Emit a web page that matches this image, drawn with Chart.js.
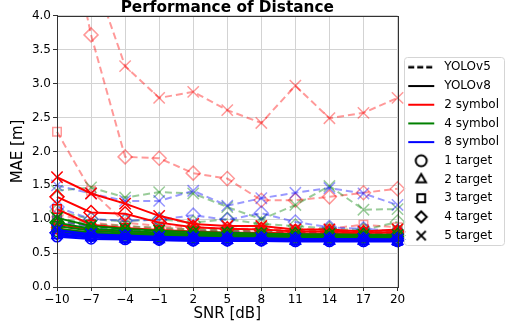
<!DOCTYPE html>
<html lang="en">
<head>
<meta charset="UTF-8" />
<title>Performance of Distance</title>
<script src="https://cdn.jsdelivr.net/npm/chart.js"></script>
<style>
  html, body { margin: 0; padding: 0; background: #fff; }
  #chart-container { width: 512px; height: 326px; }
</style>
</head>
<body>
<div id="chart-container"><canvas id="my-chart"></canvas></div>
<script>
// x categories
const snrLabels = ["\u221210", "\u22127", "\u22124", "\u22121", "2", "5", "8", "11", "14", "17", "20"];
const targetNames = ["1 target", "2 target", "3 target", "4 target", "5 target"];
const symbolNames = ["2 symbol", "4 symbol", "8 symbol"];
const modelNames = ["YOLOv5", "YOLOv8"];

// YOLOv5 (dashed), one row per target count 1..5
const yolov5Sym2 = [
  [0.98, 0.90, 0.86, 0.84, 0.83, 0.82, 0.82, 0.81, 0.81, 0.80, 0.80],
  [1.08, 0.95, 0.90, 0.87, 0.85, 0.84, 0.84, 0.83, 0.83, 0.82, 0.82],
  [2.29, 1.42, 0.95, 0.90, 0.88, 0.86, 0.86, 0.85, 0.86, 0.92, 0.88],
  [6.10, 3.72, 1.92, 1.90, 1.68, 1.60, 1.28, 1.28, 1.33, 1.39, 1.45],
  [5.50, 4.70, 3.26, 2.79, 2.88, 2.61, 2.42, 2.97, 2.49, 2.57, 2.79]
];
const yolov5Sym4 = [
  [0.92, 0.86, 0.83, 0.82, 0.80, 0.80, 0.79, 0.79, 0.78, 0.78, 0.78],
  [0.98, 0.90, 0.86, 0.84, 0.82, 0.82, 0.81, 0.80, 0.80, 0.80, 0.80],
  [1.02, 0.93, 0.90, 0.87, 0.85, 0.84, 0.84, 0.82, 0.83, 0.82, 0.84],
  [1.12, 1.00, 0.97, 1.00, 0.95, 1.00, 0.93, 0.90, 0.86, 0.84, 0.96],
  [1.42, 1.47, 1.32, 1.40, 1.38, 1.18, 1.00, 1.21, 1.49, 1.14, 1.15]
];
const yolov5Sym8 = [
  [0.85, 0.80, 0.78, 0.77, 0.76, 0.76, 0.76, 0.75, 0.75, 0.75, 0.75],
  [0.90, 0.84, 0.81, 0.80, 0.79, 0.78, 0.78, 0.77, 0.77, 0.77, 0.76],
  [0.98, 0.88, 0.85, 0.83, 0.82, 0.81, 0.80, 0.80, 0.80, 0.79, 0.79],
  [1.18, 1.00, 0.98, 0.99, 1.06, 0.99, 1.09, 0.96, 0.88, 0.86, 0.82],
  [1.50, 1.38, 1.27, 1.27, 1.42, 1.20, 1.31, 1.39, 1.46, 1.38, 1.21]
];

// YOLOv8 (solid)
const yolov8Sym2 = [
  [0.86, 0.80, 0.78, 0.77, 0.76, 0.75, 0.75, 0.74, 0.74, 0.74, 0.74],
  [0.93, 0.85, 0.82, 0.80, 0.79, 0.78, 0.77, 0.77, 0.76, 0.76, 0.76],
  [1.15, 0.92, 0.87, 0.84, 0.82, 0.80, 0.80, 0.79, 0.79, 0.78, 0.78],
  [1.33, 1.10, 1.08, 0.95, 0.88, 0.86, 0.85, 0.82, 0.82, 0.80, 0.81],
  [1.62, 1.38, 1.23, 1.05, 0.93, 0.90, 0.90, 0.85, 0.85, 0.82, 0.85]
];
const yolov8Sym4 = [
  [0.82, 0.77, 0.75, 0.74, 0.73, 0.73, 0.72, 0.72, 0.72, 0.72, 0.71],
  [0.86, 0.80, 0.78, 0.76, 0.75, 0.75, 0.74, 0.74, 0.73, 0.73, 0.73],
  [0.90, 0.83, 0.80, 0.78, 0.77, 0.76, 0.76, 0.75, 0.75, 0.75, 0.74],
  [0.95, 0.86, 0.83, 0.80, 0.79, 0.78, 0.77, 0.77, 0.76, 0.76, 0.76],
  [1.02, 0.90, 0.86, 0.83, 0.81, 0.80, 0.79, 0.78, 0.78, 0.77, 0.77]
];
const yolov8Sym8 = [
  [0.74, 0.71, 0.70, 0.69, 0.68, 0.68, 0.68, 0.67, 0.67, 0.67, 0.67],
  [0.76, 0.73, 0.71, 0.70, 0.69, 0.69, 0.69, 0.68, 0.68, 0.68, 0.68],
  [0.78, 0.74, 0.72, 0.71, 0.70, 0.70, 0.70, 0.69, 0.69, 0.69, 0.68],
  [0.80, 0.76, 0.74, 0.72, 0.71, 0.71, 0.71, 0.70, 0.70, 0.70, 0.70],
  [0.84, 0.78, 0.76, 0.74, 0.73, 0.72, 0.72, 0.71, 0.71, 0.71, 0.70]
];

const symbolColors = ["255, 0, 0", "0, 128, 0", "0, 0, 255"];
const markerStyles = ["circle", "triangle", "rect", "rectRot", "crossRot"];
const markerSizes = [5, 6, 6, 7, 8];

const groups = [
  { model: 0, sym: 0, rows: yolov5Sym2 },
  { model: 0, sym: 1, rows: yolov5Sym4 },
  { model: 0, sym: 2, rows: yolov5Sym8 },
  { model: 1, sym: 0, rows: yolov8Sym2 },
  { model: 1, sym: 1, rows: yolov8Sym4 },
  { model: 1, sym: 2, rows: yolov8Sym8 }
];

const datasets = [];
let n = 0;
groups.forEach((g) => {
  g.rows.forEach((row, t) => {
    const dashed = g.model === 0;
    const col = "rgba(" + symbolColors[g.sym] + (dashed ? ", 0.4)" : ", 1)");
    datasets.push({
      label: modelNames[g.model] + " " + symbolNames[g.sym] + " " + targetNames[t],
      data: row,
      borderColor: col,
      borderWidth: 2,
      borderDash: dashed ? [7, 4] : [],
      pointStyle: markerStyles[t],
      pointRadius: markerSizes[t],
      pointBorderColor: col,
      pointBackgroundColor: "rgba(0,0,0,0)",
      pointBorderWidth: 1.5,
      fill: false,
      tension: 0,
      order: 100 - n // later datasets drawn on top, like matplotlib
    });
    n++;
  });
});

// small images for the legend samples (34px wide slot)
function lineSample(color, dash) {
  const c = document.createElement("canvas");
  c.width = 34; c.height = 4;
  const g = c.getContext("2d");
  g.strokeStyle = color; g.lineWidth = dash ? 2.5 : 2;
  g.setLineDash(dash || []);
  g.beginPath(); g.moveTo(4, 2); g.lineTo(30, 2); g.stroke();
  return c;
}
function markerSample(style) {
  const c = document.createElement("canvas");
  c.width = 16; c.height = 16;
  const g = c.getContext("2d");
  g.strokeStyle = "#000"; g.fillStyle = "rgba(0,0,0,0)"; g.lineWidth = 2;
  Chart.helpers.drawPoint(g, { pointStyle: style, radius: style === "crossRot" ? 6.5 : 5.5, rotation: 0, borderWidth: 2 }, 8, 8);
  return c;
}

const legendItems = [
  { text: modelNames[0], img: () => lineSample("#000", [6, 3]) },
  { text: modelNames[1], img: () => lineSample("#000") },
  { text: symbolNames[0], img: () => lineSample("rgb(255,0,0)") },
  { text: symbolNames[1], img: () => lineSample("rgb(0,128,0)") },
  { text: symbolNames[2], img: () => lineSample("rgb(0,0,255)") }
].concat(targetNames.map((t, i) => ({ text: t, img: () => markerSample(markerStyles[i]) })));

const framePlugin = {
  id: "frame",
  afterDatasetsDraw(chart) {
    const a = chart.chartArea, ctx = chart.ctx;
    ctx.save();
    ctx.strokeStyle = "#333"; ctx.lineWidth = 1;
    ctx.strokeRect(Math.round(a.left) + 0.5, Math.round(a.top) + 0.5,
      Math.round(a.right - a.left), Math.round(a.bottom - a.top));
    ctx.restore();
  },
  afterDraw(chart) {
    const hb = chart.legend.legendHitBoxes;
    if (!hb || !hb.length) return;
    const x0 = Math.min(...hb.map((h) => h.left));
    const x1 = Math.max(...hb.map((h) => h.left + h.width)) + 5;
    const y0 = Math.min(...hb.map((h) => h.top)) - 4;
    const y1 = Math.max(...hb.map((h) => h.top + h.height)) + 4;
    const ctx = chart.ctx;
    ctx.save();
    ctx.strokeStyle = "#d5d5d5"; ctx.lineWidth = 1;
    ctx.beginPath();
    ctx.roundRect(Math.round(x0) + 0.5, Math.round(y0) + 0.5, Math.round(x1 - x0), Math.round(y1 - y0), 3);
    ctx.stroke();
    ctx.restore();
  }
};

const ctx = document.getElementById("my-chart").getContext("2d");
const myChart = new Chart(ctx, {
  type: "line",
  data: { labels: snrLabels, datasets: datasets },
  plugins: [framePlugin],
  options: {
    responsive: true,
    maintainAspectRatio: false,
    animation: false,
    devicePixelRatio: 1,
    layout: { padding: { left: 9, right: 3, top: 0, bottom: 0 } },
    font: { family: "'DejaVu Sans'" },
    plugins: {
      title: {
        display: true,
        text: "Performance of Distance",
        fullSize: false,
        color: "#000",
        font: { family: "'DejaVu Sans'", size: 15.3, weight: "bold", lineHeight: 1.04 },
        padding: { top: 0, bottom: 0 }
      },
      legend: {
        position: "right",
        align: "center",
        fullSize: false,
        labels: {
          color: "#000",
          font: { family: "'DejaVu Sans'", size: 12 },
          usePointStyle: true,
          pointStyleWidth: 34,
          padding: 6.7,
          generateLabels: () => legendItems.map((it) => ({
            text: it.text,
            pointStyle: it.img(),
            fillStyle: "rgba(0,0,0,0)",
            strokeStyle: "rgba(0,0,0,0)",
            lineWidth: 0,
            hidden: false
          }))
        },
        onClick: () => {}
      },
      tooltip: { enabled: false }
    },
    scales: {
      x: {
        type: "category",
        offset: false,
        title: { display: true, text: "SNR [dB]", color: "#000", font: { family: "'DejaVu Sans'", size: 15 }, padding: { top: 0, bottom: 3 } },
        ticks: { color: "#000", font: { family: "'DejaVu Sans'", size: 12 }, padding: 2, maxRotation: 0, autoSkip: false },
        grid: { color: "#d3d3d3", tickColor: "#333", tickLength: 4 },
        border: { color: "#333" },
        afterFit: (s) => { s.height = 39; }
      },
      y: {
        min: 0,
        max: 4,
        title: { display: true, text: "MAE [m]", color: "#000", font: { family: "'DejaVu Sans'", size: 15 }, padding: { top: 0, bottom: 2 } },
        ticks: { stepSize: 0.5, color: "#000", font: { family: "'DejaVu Sans'", size: 12 }, padding: 2, callback: (v) => v.toFixed(1) },
        grid: { color: "#d3d3d3", tickColor: "#333", tickLength: 4 },
        border: { color: "#333" },
        afterFit: (s) => { s.width = 48; }
      }
    }
  }
});
</script>
</body>
</html>
